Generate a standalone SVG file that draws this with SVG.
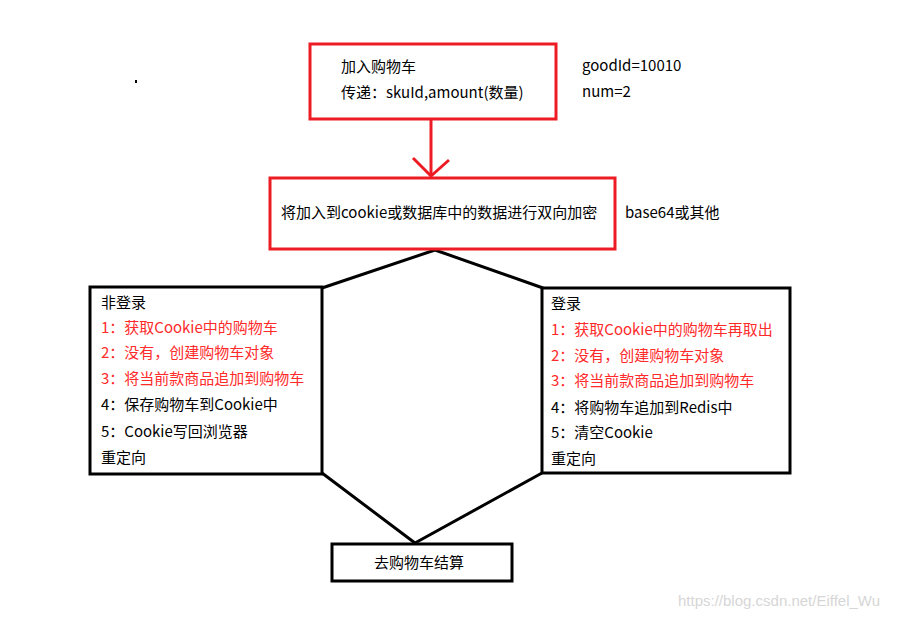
<svg xmlns="http://www.w3.org/2000/svg" width="900" height="619" viewBox="0 0 900 619">
<style>
.t{font-family:"Microsoft YaHei","Noto Sans CJK SC","Noto Sans",sans-serif;font-size:15px;fill:#000}
.r{fill:#ff2a2a}
.rb{fill:none;stroke:#ed1c24;stroke-width:3}
.bb{fill:none;stroke:#000;stroke-width:3}
.ln{fill:none;stroke:#000;stroke-width:3;stroke-linejoin:round}
.wm{font-family:"Liberation Sans",Arial,sans-serif;font-size:15px;fill:#d6d6d6}
</style>
<rect width="900" height="619" fill="#fff"/>
<rect x="135" y="80" width="2" height="3" fill="#000"/>
<g id="connectors">
<path class="rb" d="M431 119V176"/>
<path class="rb" d="M413 158L431 176L449 160"/>
<path class="ln" d="M322 288L435 250L543 288"/>
<path class="ln" d="M322 473L415 543L542 473"/>
</g>
<g id="add-cart">
<rect class="rb" x="310" y="44" width="246" height="75"/>
<text class="t" x="341" y="72">加入购物车</text>
<text class="t" x="341" y="98">传递：skuId,amount(数量)</text>
</g>
<g id="params">
<text class="t" x="582" y="71">goodId=10010</text>
<text class="t" x="582" y="97">num=2</text>
</g>
<g id="encrypt">
<rect class="rb" x="270" y="178" width="345" height="71"/>
<text class="t" x="281" y="218">将加入到cookie或数据库中的数据进行双向加密</text>
<text class="t" x="625" y="218">base64或其他</text>
</g>
<g id="not-logged-in">
<rect class="bb" x="90" y="287" width="232" height="187"/>
<text class="t" x="101" y="308">非登录</text>
<text class="t r" x="101" y="333">1：获取Cookie中的购物车</text>
<text class="t r" x="101" y="358">2：没有，创建购物车对象</text>
<text class="t r" x="101" y="384">3：将当前款商品追加到购物车</text>
<text class="t" x="101" y="410">4：保存购物车到Cookie中</text>
<text class="t" x="101" y="437">5：Cookie写回浏览器</text>
<text class="t" x="101" y="463">重定向</text>
</g>
<g id="logged-in">
<rect class="bb" x="542" y="288" width="248" height="185"/>
<text class="t" x="551" y="309">登录</text>
<text class="t r" x="551" y="335">1：获取Cookie中的购物车再取出</text>
<text class="t r" x="551" y="361">2：没有，创建购物车对象</text>
<text class="t r" x="551" y="386">3：将当前款商品追加到购物车</text>
<text class="t" x="551" y="413">4：将购物车追加到Redis中</text>
<text class="t" x="551" y="438">5：清空Cookie</text>
<text class="t" x="551" y="464">重定向</text>
</g>
<g id="checkout">
<rect class="bb" x="332" y="544" width="180" height="37"/>
<text class="t" x="419" y="568" text-anchor="middle">去购物车结算</text>
</g>
<text class="wm" x="678" y="606">https://blog.csdn.net/Eiffel_Wu</text>
</svg>
